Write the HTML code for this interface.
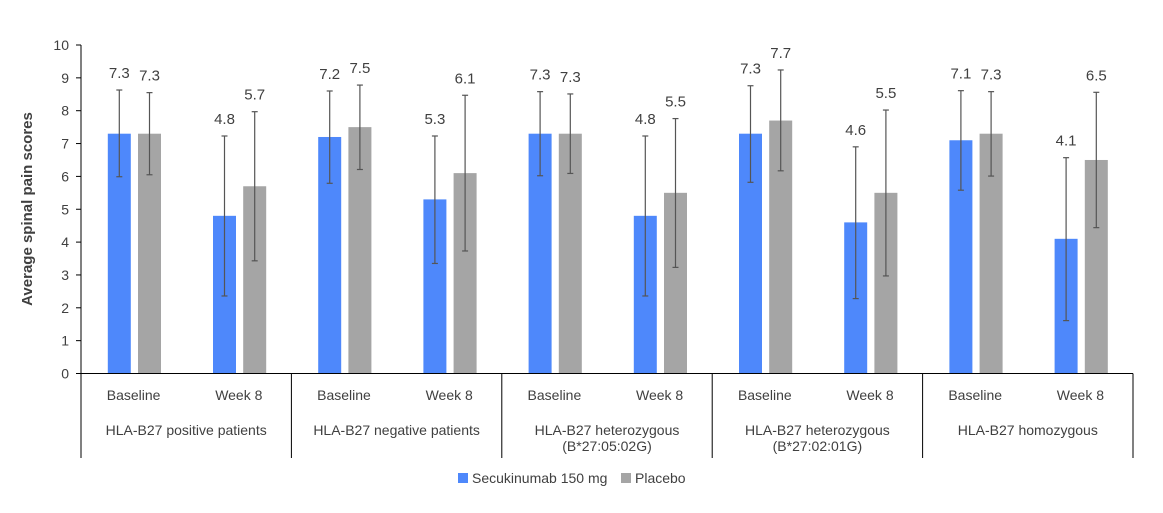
<!DOCTYPE html>
<html><head><meta charset="utf-8"><style>
body{margin:0;background:#fff;}
svg text{font-family:"Liberation Sans",sans-serif;fill:#404040;}
</style></head><body>
<svg id="chart" width="1163" height="508" xmlns="http://www.w3.org/2000/svg"></svg>
<script>
const categories=["Baseline","Week 8","Baseline","Week 8","Baseline","Week 8","Baseline","Week 8","Baseline","Week 8"];
const groups=[["HLA-B27 positive patients"],["HLA-B27 negative patients"],["HLA-B27 heterozygous","(B*27:05:02G)"],["HLA-B27 heterozygous","(B*27:02:01G)"],["HLA-B27 homozygous"]];
const secuValues=[7.3,4.8,7.2,5.3,7.3,4.8,7.3,4.6,7.1,4.1];
const placeboValues=[7.3,5.7,7.5,6.1,7.3,5.5,7.7,5.5,7.3,6.5];
const secuErrHigh=[8.63,7.23,8.6,7.23,8.58,7.23,8.76,6.9,8.61,6.57];
const secuErrLow=[5.99,2.36,5.79,3.35,6.02,2.36,5.82,2.28,5.58,1.61];
const placeboErrHigh=[8.55,7.97,8.78,8.47,8.51,7.76,9.24,8.02,8.58,8.56];
const placeboErrLow=[6.05,3.43,6.21,3.73,6.09,3.23,6.17,2.97,6.01,4.44];
const yTicks=[0,1,2,3,4,5,6,7,8,9,10];

const svg=document.getElementById('chart');
const NS='http://www.w3.org/2000/svg';
const X0=81,X1=1133,Y0=373.5,Y1=45;
const catW=(X1-X0)/categories.length;
const y=v=>Y0-(v/10)*(Y0-Y1);
const xc=i=>X0+catW*(i+0.5);
function mk(tag,attrs,parent){const e=document.createElementNS(NS,tag);for(const k in attrs)e.setAttribute(k,attrs[k]);(parent||svg).appendChild(e);return e;}

// y axis
const yax=mk('line',{x1:X0,y1:Y1,x2:X0,y2:Y0,stroke:'#000','stroke-width':1});


yTicks.forEach(t=>{
  const tk=mk('line',{x1:X0-5,y1:y(t),x2:X0,y2:y(t),stroke:'#000'});
  
  
  const tx=mk('text',{x:X0-12,y:y(t)+5,'text-anchor':'end','font-size':14});
  tx.textContent=t;
  
  
});
const yt=mk('text',{x:0,y:0,'text-anchor':'middle','font-size':15,'font-weight':'bold',transform:'translate(32,209) rotate(-90)'});
yt.textContent='Average spinal pain scores';



// bars
function series(vals,hi,lo,off,color,name){
  vals.forEach((v,i)=>{
    const cx=xc(i)+off;
    const b=mk('rect',{x:cx-11.5,y:y(v),width:23,height:Y0-y(v),fill:color});
    
    
    const g=mk('g',{stroke:'#555','stroke-width':1.2});
    
    
    mk('line',{x1:cx,y1:y(hi[i]),x2:cx,y2:y(lo[i])},g);
    mk('line',{x1:cx-3,y1:y(hi[i]),x2:cx+3,y2:y(hi[i])},g);
    mk('line',{x1:cx-3,y1:y(lo[i]),x2:cx+3,y2:y(lo[i])},g);
    const t=mk('text',{x:cx,y:y(hi[i])-12,'text-anchor':'middle','font-size':15});
    t.textContent=v.toFixed(1);
    
    
  });
}
series(secuValues,secuErrHigh,secuErrLow,-14.3,'#4e88fb','secukinumab');
series(placeboValues,placeboErrHigh,placeboErrLow,15.9,'#a5a5a5','placebo');

// x axis
const xax=mk('line',{x1:X0,y1:Y0,x2:X1,y2:Y0,stroke:'#000'});


categories.forEach((c,i)=>{
  const t=mk('text',{x:xc(i),y:400,'text-anchor':'middle','font-size':14});
  t.textContent=c;
  
  
});
for(let g=0;g<=groups.length;g++){
  const gx=X0+g*2*catW;
  const l=mk('line',{x1:gx,y1:Y0,x2:gx,y2:458,stroke:'#000'});
  
  
}
groups.forEach((lines,g)=>{
  const cx=X0+(g*2+1)*catW;
  lines.forEach((ln,k)=>{
    const t=mk('text',{x:cx,y:435+k*16,'text-anchor':'middle','font-size':14});
    t.textContent=ln;
    
    
  });
});

// legend
const lg=mk('g',{});


const l1=mk('rect',{x:458,y:473,width:10,height:10,fill:'#4e88fb'},lg);


const t1=mk('text',{x:472,y:483,'font-size':14},lg);
t1.textContent='Secukinumab 150 mg';


const l2=mk('rect',{x:621,y:473,width:10,height:10,fill:'#a5a5a5'},lg);


const t2=mk('text',{x:635,y:483,'font-size':14},lg);
t2.textContent='Placebo';


</script>
</body></html>
